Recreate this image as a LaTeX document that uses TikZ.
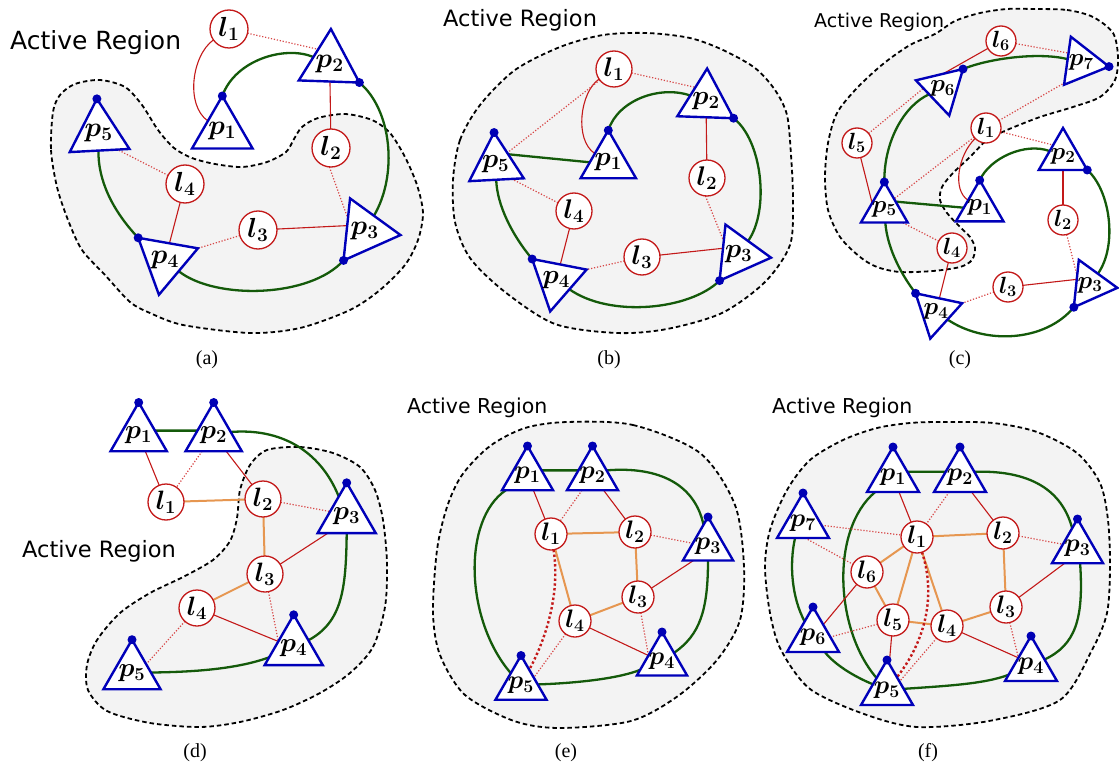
\documentclass[tikz,border=0pt]{standalone}
\usepackage{graphicx}
\usepackage{fontspec}
\newfontfamily\arfont{DejaVu Sans}
\newfontfamily\capfont{Liberation Serif}
\usetikzlibrary{shapes.geometric}
\definecolor{triblue}{RGB}{0,0,185}
\definecolor{dotblue}{RGB}{0,0,180}
\definecolor{lred}{RGB}{195,25,25}
\definecolor{ldot}{RGB}{215,70,70}
\definecolor{dgreen}{RGB}{20,90,10}
\definecolor{lorange}{RGB}{230,150,80}
\definecolor{regfill}{RGB}{243,243,243}
\pgfdeclarelayer{regionlayer}
\pgfdeclarelayer{edgelayer}
\pgfsetlayers{regionlayer,edgelayer,main}
\tikzset{
  tri/.style={regular polygon, regular polygon sides=3, draw=triblue, fill=white, line width=2.4pt, inner sep=0pt, outer sep=0pt},
  lm/.style={circle, draw=lred, fill=white, line width=1.3pt, inner sep=0pt, outer sep=0pt},
  dotn/.style={circle, fill=dotblue, inner sep=0pt, minimum size=9pt},
  grn/.style={draw=dgreen, line width=2.3pt},
  rs/.style={draw=lred, line width=1.1pt},
  rd/.style={draw=ldot, line width=1.2pt, dash pattern=on 1.2pt off 1.8pt},
  rdt/.style={draw=lred, line width=2.4pt, dash pattern=on 2.4pt off 2.4pt},
  org/.style={draw=lorange, line width=2pt},
  region/.style={draw=black, fill=regfill, line width=1.8pt, dash pattern=on 4.5pt off 3pt},
  artext/.style={font=\arfont\fontsize{#1}{#1}\selectfont, anchor=base west, inner sep=0pt},
  captext/.style={font=\capfont\fontsize{20}{20}\selectfont, inner sep=0pt},
  labf/.style={inner sep=0pt, font=\fontsize{20.74}{20.74}\selectfont\boldmath},
}
\newcommand\mytri[7]{\node[tri, minimum size=#5pt, shape border rotate=#4, label={[labf]center:\scalebox{#7}{$#6$}}] (#1) at (#2,#3) {};}
\newcommand\mylm[6]{\node[lm, minimum size=#4pt, label={[labf]center:\scalebox{#6}{$#5$}}] (#1) at (#2,#3) {};}
\newcommand\mydot[2]{\node[dotn] (#1d) at (#1.corner #2) {};}
\begin{document}
\begin{tikzpicture}[x=1pt,y=-1pt]
\useasboundingbox (0,0) rectangle (1119,762);
% ---------- regions ----------
\begin{pgfonlayer}{regionlayer}
\draw[region] plot[smooth cycle] coordinates {(53,112) (51,150) (57,187) (68,220) (82,250) (105,275) (130,302) (150,313) (183,325) (250,333) (300,328) (350,310) (380,290) (405,265) (418,240) (423,213) (417,185) (405,157) (390,133) (372,120) (345,114) (318,118) (302,127) (294,139) (286,152) (267,162) (242,167) (215,164) (192,158) (174,148) (158,130) (142,105) (125,87) (100,80) (75,84) (60,95)};
\draw[region] plot[smooth cycle] coordinates {(453,180) (460,140) (480,105) (515,70) (560,47) (603,35) (647,33) (690,38) (723,50) (755,68) (775,90) (787,115) (791,155) (793,200) (790,245) (765,282) (722,313) (667,329) (617,333) (555,324) (505,292) (470,258) (455,222)};
\draw[region] plot[smooth cycle] coordinates {(1033,9) (1067,10) (1093,17) (1113,33) (1118,57) (1115,80) (1100,97) (1073,107) (1040,117) (1007,130) (987,140) (970,157) (953,173) (942,187) (940,200) (947,213) (960,227) (970,237) (975,248) (972,260) (960,267) (933,271) (900,272) (877,267) (860,257) (840,237) (828,210) (825,177) (828,143) (837,113) (857,88) (883,64) (910,45) (935,34) (955,21) (980,13) (1007,9)};
\draw[region] plot[smooth cycle] coordinates {(267,450) (300,447) (333,453) (360,467) (375,490) (383,520) (387,563) (385,607) (373,647) (350,673) (320,693) (283,710) (240,722) (200,727) (150,723) (107,711) (88,690) (87,665) (97,640) (120,613) (150,593) (183,577) (213,560) (230,541) (237,518) (240,490) (250,465)};
\draw[region] plot[smooth cycle] coordinates {(567,422) (633,425) (700,453) (735,505) (744,567) (740,620) (717,660) (678,696) (631,721) (560,728) (514,721) (465,695) (440,655) (433,613) (437,550) (447,507) (462,475) (490,446) (525,428)};
\draw[region] plot[smooth cycle] coordinates {(910,423) (943,422) (993,423) (1037,432) (1077,453) (1100,483) (1108,520) (1110,567) (1107,613) (1092,650) (1060,700) (989,721) (917,727) (864,714) (810,689) (781,650) (770,613) (765,567) (770,530) (787,490) (810,460) (843,440) (877,428)};
\end{pgfonlayer}
% ---------- texts ----------
\node[artext=25] (ara) at (10,50) {Active Region};
\node[artext=22.5] (arb) at (443,27) {Active Region};
\node[artext=19] (artc) at (814,28) {Active Region};
\node[artext=22.5] (ard) at (22,557) {Active Region};
\node[artext=20.5] (are) at (407,413) {Active Region};
\node[artext=20.5] (arf) at (772,413) {Active Region};
\node[captext] (capa) at (207,360) {(a)};
\node[captext] (capb) at (609,360) {(b)};
\node[captext] (capc) at (960,360) {(c)};
\node[captext] (capd) at (195,753) {(d)};
\node[captext] (cape) at (566,753) {(e)};
\node[captext] (capf) at (928,753) {(f)};
% ---------- panel (a) ----------
\mylm{al1}{229}{29}{38}{l_1}{1.33}
\mytri{ap2}{329.7}{64}{-2}{70}{p_2}{1.33}
\mytri{ap1}{222.3}{131}{0}{70}{p_1}{1.33}
\mytri{ap5}{98.7}{133.3}{3}{69}{p_5}{1.33}
\mylm{al2}{331}{148}{38}{l_2}{1.33}
\mylm{al4}{185}{184}{38}{l_4}{1.33}
\mylm{al3}{258}{230}{38}{l_3}{1.33}
\mytri{ap4}{165}{260.3}{50}{70}{p_4}{1.33}
\mytri{ap3}{364.7}{231.3}{24}{72}{p_3}{1.33}
\mydot{ap1}{1}\mydot{ap2}{3}\mydot{ap5}{1}\mydot{ap4}{1}\mydot{ap3}{2}
\begin{pgfonlayer}{edgelayer}
\draw[rs] (al1) .. controls (192,55) and (185,105) .. (ap1);
\draw[rd] (al1) -- (ap2.128);
\draw[grn] (ap1d.center) .. controls (235,60) and (285,45) .. (ap2);
\draw[grn] (ap2d.center) .. controls (392,110) and (398,175) .. (ap3);
\draw[grn] (ap3d.center) .. controls (310,298) and (215,300) .. (ap4);
\draw[grn] (ap4d.center) .. controls (112,210) and (98,180) .. (ap5);
\draw[rs] (ap2) -- (al2);
\draw[rd] (al2.-95) -- (ap3.143);
\draw[rs] (al3) -- (ap3.162);
\draw[rd] (al3) -- (ap4.corner 3);
\draw[rs] (al4) -- (ap4);
\draw[rd] (al4) -- (ap5.319);
\end{pgfonlayer}
% ---------- panel (b) ----------
\mylm{bl1}{614}{69}{36}{l_1}{1.3}
\mytri{bp2}{706}{101}{-2}{65}{p_2}{1.3}
\mytri{bp1}{608.3}{162.3}{0}{64}{p_1}{1.3}
\mytri{bp5}{495.7}{164}{3}{63}{p_5}{1.3}
\mylm{bl2}{707}{178}{36}{l_2}{1.3}
\mylm{bl4}{574}{211}{36}{l_4}{1.3}
\mylm{bl3}{642}{257}{36}{l_3}{1.3}
\mytri{bp4}{556.3}{280}{49}{64}{p_4}{1.3}
\mytri{bp3}{738.7}{254.3}{24}{65}{p_3}{1.3}
\mydot{bp2}{3}\mydot{bp1}{1}\mydot{bp5}{1}\mydot{bp4}{1}\mydot{bp3}{2}
\begin{pgfonlayer}{edgelayer}
\draw[rs] (bl1) .. controls (580,92) and (574,140) .. (bp1);
\draw[rd] (bl1) -- (bp2.128);
\draw[rd] (bl1) -- (bp5.44);
\draw[grn] (bp5.38) -- (bp1.180);
\draw[grn] (bp1d.center) .. controls (618,100) and (660,85) .. (bp2);
\draw[grn] (bp2d.center) .. controls (762,140) and (770,210) .. (bp3);
\draw[grn] (bp3d.center) .. controls (690,310) and (610,318) .. (bp4);
\draw[grn] (bp4d.center) .. controls (512,235) and (497,205) .. (bp5);
\draw[rs] (bp2) -- (bl2);
\draw[rd] (bl2.-95) -- (bp3.139);
\draw[rs] (bl3) -- (bp3.159);
\draw[rd] (bl3) -- (bp4.corner 3);
\draw[rs] (bl4) -- (bp4);
\draw[rd] (bl4) -- (bp5.317);
\end{pgfonlayer}
% ---------- panel (c) ----------
\mylm{cl6}{1001}{41}{30}{l_6}{1.13}
\mytri{cp7}{1081.3}{62.7}{22}{56}{p_7}{1.18}
\mytri{cp6}{942.7}{88.3}{-46.5}{56}{p_6}{1.18}
\mylm{cl1}{986}{128}{30}{l_1}{1.13}
\mylm{cl5}{857}{143}{30}{l_5}{1.13}
\mytri{cp2}{1063}{156}{0}{56}{p_2}{1.18}
\mytri{cp1}{979.7}{207.7}{0}{55}{p_1}{1.18}
\mytri{cp5}{884.3}{209}{0}{54}{p_5}{1.18}
\mylm{cl2}{1063}{220}{30}{l_2}{1.13}
\mylm{cl4}{952}{248}{30}{l_4}{1.13}
\mylm{cl3}{1008}{287}{30}{l_3}{1.13}
\mytri{cp3}{1090}{285}{24}{55}{p_3}{1.18}
\mytri{cp4}{936}{311.7}{48}{55}{p_4}{1.18}
\mydot{cp7}{3}\mydot{cp6}{1}\mydot{cp2}{3}\mydot{cp1}{1}\mydot{cp5}{1}\mydot{cp3}{2}\mydot{cp4}{1}
\begin{pgfonlayer}{edgelayer}
\draw[rs] (cl6) -- (cp6.89);
\draw[rd] (cl6) -- (cp7.143);
\draw[grn] (cp6d.center) .. controls (990,58) and (1040,52) .. (cp7);
\draw[grn] (cp5d.center) .. controls (884,140) and (905,105) .. (cp6);
\draw[rd] (cl5) -- (cp6.180);
\draw[rs] (cl5) -- (cp5.154);
\draw[rd] (cl1) -- (cp7.230);
\draw[rd] (cl1) -- (cp5.46);
\draw[rs] (cl1) .. controls (958,155) and (952,190) .. (cp1);
\draw[rd] (cl1) -- (cp2.132);
\draw[grn] (cp5.33) -- (cp1.180);
\draw[grn] (cp1d.center) .. controls (990,158) and (1025,142) .. (cp2);
\draw[grn] (cp2d.center) .. controls (1110,190) and (1118,245) .. (cp3);
\draw[grn] (cp3d.center) .. controls (1045,342) and (985,345) .. (cp4);
\draw[grn] (cp4d.center) .. controls (898,270) and (887,245) .. (cp5);
\draw[rs] (cp2) -- (cl2);
\draw[rd] (cl2) -- (cp3.145);
\draw[rs] (cl3) -- (cp3.157);
\draw[rd] (cl3) -- (cp4.corner 3);
\draw[rs] (cl4) -- (cp4);
\draw[rd] (cl4) -- (cp5.323);
\end{pgfonlayer}
% ---------- panel (d) ----------
\mytri{dp1}{138.7}{435}{0}{65}{p_1}{1.28}
\mytri{dp2}{213.7}{435}{0}{65}{p_2}{1.28}
\mylm{dl1}{166}{502}{36}{l_1}{1.28}
\mylm{dl2}{263}{499}{36}{l_2}{1.28}
\mytri{dp3}{346.7}{516.3}{0}{67}{p_3}{1.28}
\mylm{dl3}{265}{574}{36}{l_3}{1.28}
\mylm{dl4}{197}{608}{36}{l_4}{1.28}
\mytri{dp4}{293.7}{648.3}{0}{67}{p_4}{1.28}
\mytri{dp5}{132}{672.7}{0}{66}{p_5}{1.28}
\mydot{dp1}{1}\mydot{dp2}{1}\mydot{dp3}{1}\mydot{dp4}{1}\mydot{dp5}{1}
\begin{pgfonlayer}{edgelayer}
\draw[grn] (dp1.15) -- (dp2.165);
\draw[grn] (dp2.10) .. controls (280,428) and (320,450) .. (dp3);
\draw[grn] (dp3.-90) .. controls (346,590) and (342,622) .. (dp4);
\draw[grn] (dp4) .. controls (240,668) and (200,672) .. (dp5);
\draw[rs] (dp1) -- (dl1);
\draw[rd] (dp2) -- (dl1);
\draw[rs] (dp2) -- (dl2);
\draw[org] (dl1) -- (dl2);
\draw[rd] (dl2) -- (dp3.164);
\draw[org] (dl2) -- (dl3);
\draw[rs] (dl3) -- (dp3.222);
\draw[org] (dl3) -- (dl4);
\draw[rd] (dl3) -- (dp4.156);
\draw[rs] (dl4) -- (dp4.156);
\draw[rd] (dl4) -- (dp5.31);
\end{pgfonlayer}
% ---------- panel (e) ----------
\mytri{ep1}{527.5}{475.5}{0}{59}{p_1}{1.24}
\mytri{ep2}{592.5}{475.5}{0}{59}{p_2}{1.24}
\mylm{el1}{551}{534}{32}{l_1}{1.22}
\mylm{el2}{635}{532}{32}{l_2}{1.22}
\mytri{ep3}{708}{546}{0}{58}{p_3}{1.24}
\mylm{el3}{638}{597}{32}{l_3}{1.22}
\mylm{el4}{575}{621}{32}{l_4}{1.22}
\mytri{ep4}{662}{661}{0}{58}{p_4}{1.24}
\mytri{ep5}{521}{685}{0}{59}{p_5}{1.24}
\mydot{ep1}{1}\mydot{ep2}{1}\mydot{ep3}{1}\mydot{ep4}{1}\mydot{ep5}{1}
\begin{pgfonlayer}{edgelayer}
\draw[grn] (ep1.20) -- (ep2.160);
\draw[grn] (ep2.20) .. controls (660,466) and (695,485) .. (ep3);
\draw[grn] (ep3.-90) .. controls (708,610) and (700,635) .. (ep4);
\draw[grn] (ep4) .. controls (620,678) and (580,683) .. (ep5);
\draw[grn] (ep5) .. controls (465,620) and (462,520) .. (ep1);
\draw[rs] (ep1) -- (el1);
\draw[rd] (ep2) -- (el1);
\draw[rs] (ep2) -- (el2);
\draw[org] (el1) -- (el2);
\draw[rd] (el2) -- (ep3.170);
\draw[org] (el2) -- (el3);
\draw[rs] (el3) -- (ep3.225);
\draw[org] (el1) -- (el4);
\draw[org] (el3) -- (el4);
\draw[rd] (el3) -- (ep4.158);
\draw[rs] (el4) -- (ep4.158);
\draw[rd] (el4) -- (ep5.30);
\draw[rdt] (el1) .. controls (560,590) and (548,635) .. (ep5);
\end{pgfonlayer}
% ---------- panel (f) ----------
\mytri{fp1}{893}{477}{0}{60}{p_1}{1.24}
\mytri{fp2}{960}{477}{0}{60}{p_2}{1.24}
\mytri{fp7}{803}{523}{0}{60}{p_7}{1.24}
\mytri{fp3}{1077.5}{548.5}{0}{59}{p_3}{1.24}
\mytri{fp6}{813}{637}{0}{60}{p_6}{1.24}
\mytri{fp4}{1031}{666}{0}{60}{p_4}{1.24}
\mytri{fp5}{887}{690}{0}{60}{p_5}{1.24}
\mylm{fl1}{917}{537}{32}{l_1}{1.22}
\mylm{fl2}{1003}{533}{32}{l_2}{1.22}
\mylm{fl3}{1006}{607}{32}{l_3}{1.22}
\mylm{fl4}{947}{626}{32}{l_4}{1.22}
\mylm{fl5}{893}{620}{32}{l_5}{1.22}
\mylm{fl6}{867}{572}{32}{l_6}{1.22}
\mydot{fp1}{1}\mydot{fp2}{1}\mydot{fp7}{1}\mydot{fp3}{1}\mydot{fp6}{1}\mydot{fp4}{1}\mydot{fp5}{1}
\begin{pgfonlayer}{edgelayer}
\draw[grn] (fp1.20) -- (fp2.160);
\draw[grn] (fp2.20) .. controls (1030,470) and (1062,490) .. (fp3);
\draw[grn] (fp3.-80) .. controls (1084,620) and (1075,645) .. (fp4);
\draw[grn] (fp4) .. controls (985,684) and (945,686) .. (fp5);
\draw[grn] (fp5) .. controls (835,630) and (830,530) .. (fp1);
\draw[grn] (fp6) .. controls (835,665) and (855,677) .. (fp5);
\draw[grn] (fp7.-118) .. controls (789,565) and (792,598) .. (fp6);
\draw[rs] (fp1) -- (fl1);
\draw[rd] (fp2) -- (fl1);
\draw[rs] (fp2) -- (fl2);
\draw[org] (fl1) -- (fl2);
\draw[rd] (fl2) -- (fp3.164);
\draw[org] (fl2) -- (fl3);
\draw[rs] (fl3) -- (fp3.229);
\draw[rd] (fp7) -- (fl1);
\draw[rd] (fp7.-82) -- (fl6);
\draw[org] (fl1) -- (fl6);
\draw[rs] (fl6) -- (fp6);
\draw[org] (fl6) -- (fl5);
\draw[org] (fl1) -- (fl5);
\draw[org] (fl1) -- (fl4);
\draw[org] (fl5) -- (fl4);
\draw[org] (fl3) -- (fl4);
\draw[rd] (fl5) -- (fp6.0);
\draw[rs] (fl5) -- (fp5);
\draw[rd] (fl4) -- (fp5.34);
\draw[rdt] (fl1) .. controls (936,595) and (926,640) .. (fp5);
\draw[rs] (fl4) -- (fp4.147);
\draw[rd] (fl3) -- (fp4.147);
\end{pgfonlayer}
\end{tikzpicture}
\end{document}
